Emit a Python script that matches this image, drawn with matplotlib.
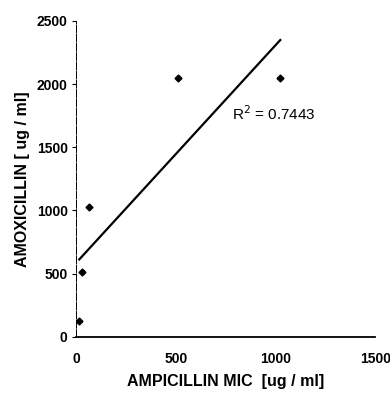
import matplotlib.pyplot as plt
import numpy as np

plt.rcParams['font.family'] = ['Liberation Sans', 'DejaVu Sans']

# MIC values
ampicillin = [16, 32, 64, 512, 1024]
amoxicillin = [128, 512, 1024, 2048, 2048]
xticks = [0, 500, 1000, 1500]
yticks = [0, 500, 1000, 1500, 2000, 2500]


def main():
    x = np.array(ampicillin, dtype=float)
    y = np.array(amoxicillin, dtype=float)
    slope, intercept = np.polyfit(x, y, 1)
    r2 = np.corrcoef(x, y)[0, 1] ** 2

    fig = plt.figure(figsize=(3.9, 3.93), dpi=100)
    ax = fig.add_axes([0.195, 0.143, 0.767, 0.804])

    ax.plot(x, y, 'D', color='black', markersize=3.5, zorder=3)
    xl = np.array([x.min(), x.max()])
    ax.plot(xl, slope * xl + intercept, color='black', linewidth=1.6)

    ax.text(783, 1768, f"R$^2$ = {r2:.4f}", fontsize=11, va='center',
            ha='left')

    ax.set_xlim(0, 1500)
    ax.set_ylim(0, 2500)
    ax.set_xticks(xticks)
    ax.set_yticks(yticks)
    ax.tick_params(axis='x', length=0, pad=11, labelsize=10)
    ax.tick_params(axis='y', length=3, width=0.8, pad=3, labelsize=10)
    for lab in ax.get_xticklabels() + ax.get_yticklabels():
        lab.set_fontweight('bold')

    for side in ['top', 'right']:
        ax.spines[side].set_visible(False)
    ax.spines['bottom'].set_linewidth(1.3)
    ax.spines['left'].set_linewidth(0.7)
    ax.spines['left'].set_linestyle((0, (8, 1.5)))

    ax.set_xlabel("AMPICILLIN MIC  [ug / ml]", fontsize=11.5,
                  fontweight='bold', labelpad=6)
    ax.set_ylabel("AMOXICILLIN [ ug / ml]", fontsize=11.5,
                  fontweight='bold', labelpad=5)

    fig.savefig("out.png", dpi=100)


if __name__ == "__main__":
    main()
